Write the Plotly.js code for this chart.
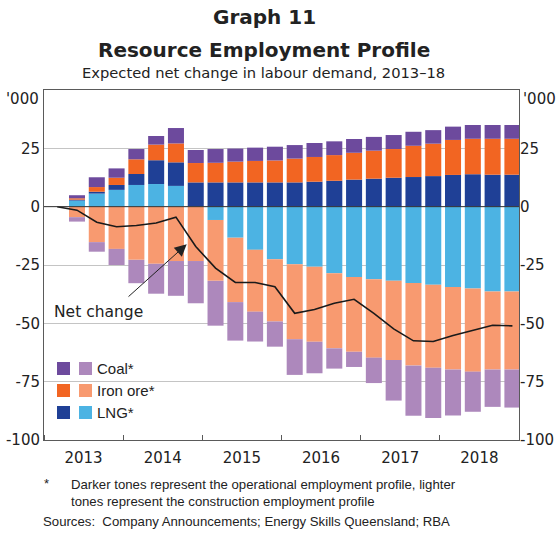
<!DOCTYPE html>
<html>
<head>
<meta charset="utf-8">
<script src="https://cdn.plot.ly/plotly-3.0.1.min.js"></script>
<style>
  html, body { margin: 0; padding: 0; background: #fff; }
  #chart { width: 556px; height: 536px; }
</style>
</head>
<body>
<div id="chart"></div>
<script>
// ---- Data ('000 persons, expected net change in labour demand) ----
const quarters = [
  '2013 Q1','2013 Q2','2013 Q3','2013 Q4',
  '2014 Q1','2014 Q2','2014 Q3','2014 Q4',
  '2015 Q1','2015 Q2','2015 Q3','2015 Q4',
  '2016 Q1','2016 Q2','2016 Q3','2016 Q4',
  '2017 Q1','2017 Q2','2017 Q3','2017 Q4',
  '2018 Q1','2018 Q2','2018 Q3','2018 Q4'
];
const years = ['2013','2014','2015','2016','2017','2018'];

// LNG construction (lighter blue)
const lngConstruction = [0, 2.6, 5.6, 7.2, 9.3, 9.7, 8.9, 0, -5.7, -13.3, -18.5, -22.5,
  -24.7, -25.7, -28.5, -30.1, -31.1, -31.8, -32.7, -33.5, -34.4, -35.1, -36.4, -36.4];
// LNG operational (darker blue)
const lngOperational = [0, 0.4, 0.8, 2.1, 4.7, 10.2, 10.1, 10.4, 10.4, 10.4, 10.4, 10.4,
  10.4, 10.7, 11.1, 11.6, 12.0, 12.4, 12.7, 13.1, 13.6, 13.9, 13.7, 13.7];
// Iron ore operational (darker orange)
const ironOperational = [0, 0.6, 2.0, 3.1, 6.3, 6.7, 8.1, 8.3, 8.4, 8.9, 9.2, 9.4,
  10.2, 10.6, 11.0, 11.5, 12.0, 12.3, 13.4, 13.9, 15.0, 15.2, 15.4, 15.4];
// Coal operational (darker purple)
const coalOperational = [0, 1.3, 4.2, 4.0, 4.4, 3.7, 6.6, 5.6, 5.9, 5.6, 5.7, 5.9,
  5.8, 6.0, 5.9, 5.9, 5.9, 6.0, 6.0, 5.8, 5.7, 5.9, 5.9, 5.9];
// Iron ore construction (lighter orange)
const ironConstruction = [0, -4.5, -15.2, -18.1, -22.8, -24.5, -23.3, -23.3, -26.1, -27.6, -26.5, -26.7,
  -32.1, -32.2, -32.2, -32.1, -33.6, -33.9, -35.4, -35.5, -35.4, -35.6, -33.4, -33.4];
// Coal construction (lighter purple)
const coalConstruction = [0, -1.9, -4.1, -6.9, -10.0, -12.8, -14.9, -18.1, -19.2, -16.5, -12.8, -10.8,
  -15.3, -13.5, -8.7, -6.5, -10.9, -17.4, -21.5, -21.6, -19.7, -17.2, -16.0, -16.3];

const yTickVals = [-100, -75, -50, -25, 0, 25];
const yTickText = ['-100', '-75', '-50', '-25', '0', '25'];

// ---- Derived ----
const xIdx = quarters.map((q, i) => i);
const netChange = xIdx.map(i => lngConstruction[i] + lngOperational[i] + ironOperational[i] +
  coalOperational[i] + ironConstruction[i] + coalConstruction[i]);

// ---- Geometry helpers ----
const M = {l: 44, r: 37, t: 90, b: 96};
const W = 556, H = 536;
const PW = W - M.l - M.r, PH = H - M.t - M.b;
const fx = px => (px - M.l) / PW;
const fy = py => (M.t + PH - py) / PH;
const OFF = 0.167;               // bars sit slightly right of quarter centres
const xr = [-0.5 - OFF, quarters.length - 0.5 - OFF];
const yearCentres = years.map((y, k) => xr[0] + 4 * k + 2);
const yearBounds = years.map((y, k) => xr[0] + 4 * k).concat([xr[1]]);

const C = {
  lngCon: '#4cb3e3', lngOp: '#1f4096',
  ironOp: '#f26522', ironCon: '#f89a70',
  coalOp: '#6d4a9d', coalCon: '#ad88bc'
};
const FONT = 'DejaVu Sans, Liberation Sans, Arial, sans-serif';
const ARIAL = 'Liberation Sans, Arial, sans-serif';

function bar(y, color, name) {
  return {type: 'bar', x: xIdx, y: y, name: name, marker: {color: color, line: {width: 0}},
          width: 0.81, hoverinfo: 'skip', showlegend: false};
}

const traces = [
  bar(lngConstruction, C.lngCon, 'LNG construction'),
  bar(lngOperational, C.lngOp, 'LNG operational'),
  bar(ironOperational, C.ironOp, 'Iron ore operational'),
  bar(coalOperational, C.coalOp, 'Coal operational'),
  bar(ironConstruction, C.ironCon, 'Iron ore construction'),
  bar(coalConstruction, C.coalCon, 'Coal construction'),
  {type: 'scatter', mode: 'lines', x: xIdx, y: netChange, name: 'Net change',
   line: {color: '#1a1a1a', width: 1.6}, hoverinfo: 'skip', showlegend: false},
  {type: 'scatter', mode: 'lines', x: [xr[0]], y: [0], yaxis: 'y2', hoverinfo: 'skip',
   showlegend: false, line: {width: 0}}
];

const axisLine = '#5a5a5a';
const shapes = [
  {type: 'line', xref: 'paper', yref: 'y', x0: 0, x1: 1, y0: 0, y1: 0,
   line: {color: '#333333', width: 1}, layer: 'above'}
];
// legend keys
const legendRows = [
  {label: 'Coal*', dark: C.coalOp, light: C.coalCon, y0: 362, y1: 375},
  {label: 'Iron ore*', dark: C.ironOp, light: C.ironCon, y0: 384, y1: 397},
  {label: 'LNG*', dark: C.lngOp, light: C.lngCon, y0: 406, y1: 419}
];
const annotations = [];
legendRows.forEach(r => {
  shapes.push({type: 'rect', xref: 'paper', yref: 'paper', x0: fx(57), x1: fx(70),
    y0: fy(r.y1), y1: fy(r.y0), fillcolor: r.dark, line: {width: 0}, layer: 'above'});
  shapes.push({type: 'rect', xref: 'paper', yref: 'paper', x0: fx(79), x1: fx(92),
    y0: fy(r.y1), y1: fy(r.y0), fillcolor: r.light, line: {width: 0}, layer: 'above'});
  annotations.push({xref: 'paper', yref: 'paper', x: fx(95), y: fy((r.y0 + r.y1) / 2),
    xanchor: 'left', yanchor: 'middle', showarrow: false, text: r.label,
    font: {family: ARIAL, size: 15, color: '#222'}});
});

function txt(text, px, py, size, opts, fam) {
  return Object.assign({xref: 'paper', yref: 'paper', x: fx(px), y: fy(py), text: text,
    showarrow: false, xanchor: 'center', yanchor: 'middle',
    font: {family: fam || FONT, size: size, color: '#222'}}, opts || {});
}

annotations.push(
  txt('<b>Graph 11</b>', 264, 17, 20),
  txt('<b>Resource Employment Profile</b>', 264, 50, 20),
  txt('Expected net change in labour demand, 2013\u201318', 263, 72, 14.7),
  txt("'000", 41, 99, 15, {xanchor: 'right'}),
  txt("'000", 521, 99, 15, {xanchor: 'left'}),
  txt('Net change', 98.5, 312, 15.5),
  txt('*', 42, 483, 13, {xanchor: 'left'}, ARIAL),
  txt('Darker tones represent the operational employment profile, lighter', 69, 484, 13.2, {xanchor: 'left'}, ARIAL),
  txt('tones represent the construction employment profile', 69, 502, 13.2, {xanchor: 'left'}, ARIAL),
  txt('Sources:\u00a0\u00a0Company Announcements; Energy Skills Queensland; RBA', 41, 521, 13.2, {xanchor: 'left'}, ARIAL),
  {xref: 'x', yref: 'y', x: 6.544, y: -16.1, ax: -59.7, ay: 53.7, text: '', showarrow: true,
   arrowhead: 2, arrowsize: 2.4, arrowwidth: 1, arrowcolor: '#222', standoff: 0}
);

const layout = {
  width: W, height: H,
  margin: M,
  paper_bgcolor: '#ffffff', plot_bgcolor: '#ffffff',
  barmode: 'relative', bargap: 0.19,
  showlegend: false,
  font: {family: FONT, size: 15, color: '#222'},
  xaxis: {
    range: xr, tickmode: 'array', tickvals: yearCentres, ticktext: years,
    ticks: '', showgrid: false, zeroline: false, fixedrange: true,
    showline: true, linecolor: axisLine, linewidth: 1, mirror: true,
    ticklabelstandoff: 4,
    tickfont: {family: FONT, size: 15, color: '#222'},
    minor: {tickmode: 'array', tickvals: yearBounds, ticks: 'inside', ticklen: 5,
            tickcolor: axisLine, tickwidth: 1, showgrid: false}
  },
  yaxis: {
    range: [-100, 50], tickmode: 'array', tickvals: yTickVals, ticktext: yTickText,
    ticks: '', showgrid: true, gridcolor: '#c4c4c4', gridwidth: 1, zeroline: false,
    showline: true, linecolor: axisLine, linewidth: 1, mirror: true, fixedrange: true,
    tickfont: {family: FONT, size: 15, color: '#222'}
  },
  yaxis2: {
    range: [-100, 50], overlaying: 'y', side: 'right', tickmode: 'array',
    tickvals: yTickVals, ticktext: yTickText, ticks: '', showgrid: false, zeroline: false,
    showline: false, fixedrange: true, tickfont: {family: FONT, size: 15, color: '#222'}
  },
  shapes: shapes,
  annotations: annotations
};

Plotly.newPlot('chart', traces, layout, {staticPlot: true, displayModeBar: false});
</script>
</body>
</html>
